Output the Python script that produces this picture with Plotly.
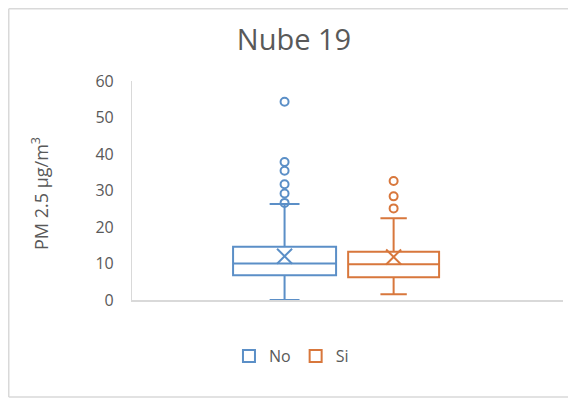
import plotly.graph_objects as go

# ---- data ----
series = ["No", "Si"]
colors = ["#5b8fc7", "#d8773c"]
q1 = [6.8, 6.2]
median = [10.0, 9.8]
q3 = [14.6, 13.2]
lower = [0.0, 1.6]
upper = [26.3, 22.4]
means = [12.0, 11.8]
outliers = [
    [54.3, 37.8, 35.4, 31.7, 29.2, 26.6],
    [32.6, 28.4, 25.1],
]
y_ticks = [0, 10, 20, 30, 40, 50, 60]

# layout positions (x in [0,1] plot coordinates)
positions = [0.354, 0.607]
widths = [0.239, 0.211]

FONT = "Open Sans"
GRAY = "#595959"

W, H = 576, 398          # page body has an 8px default margin
L, T = 124, 73
PW, PH = 431, 219
R, B = W - L - PW, H - T - PH

fig = go.Figure()
for i, name in enumerate(series):
    fig.add_trace(go.Box(
        name=name,
        x=[positions[i]],
        q1=[q1[i]], median=[median[i]], q3=[q3[i]],
        lowerfence=[lower[i]], upperfence=[upper[i]],
        width=widths[i],
        whiskerwidth=0.29,
        fillcolor="rgba(255,255,255,0)",
        line=dict(color=colors[i], width=2),
        boxpoints=False,
        showlegend=True,
    ))
    fig.add_trace(go.Scatter(
        x=[positions[i]] * len(outliers[i]), y=outliers[i],
        mode="markers",
        marker=dict(symbol="circle-open", size=8, color=colors[i],
                    line=dict(width=2, color=colors[i])),
        showlegend=False, hoverinfo="y",
    ))
    fig.add_trace(go.Scatter(
        x=[positions[i]], y=[means[i]],
        mode="markers",
        marker=dict(symbol="x-thin-open", size=15, color=colors[i],
                    line=dict(width=2, color=colors[i])),
        showlegend=False, hoverinfo="y",
    ))

bx0, bx1 = (0.75 - L) / PW, 1.2
by0, by1 = (292 - 389) / PH, (292 - 0.75) / PH
border = dict(color="#d9d9d9", width=1.5)

fig.update_layout(
    width=W, height=H,
    margin=dict(l=L, r=R, t=T, b=B),
    paper_bgcolor="white", plot_bgcolor="white",
    font=dict(family=FONT, color=GRAY, size=15),
    title=dict(text="Nube 19", x=286 / W, xref="container", y=1 - 32 / H,
               yref="container", xanchor="center", yanchor="middle",
               font=dict(family=FONT, size=29, color="#595959")),
    xaxis=dict(range=[0, 1], showticklabels=False, ticks="", showgrid=False,
               zeroline=False, showline=True, linecolor="#d9d9d9", linewidth=1.5),
    yaxis=dict(range=[0, 60], tickvals=y_ticks, ticks="", showgrid=False,
               zeroline=False, showline=True, linecolor="#d9d9d9", linewidth=1.2,
               ticklabelstandoff=14, tickfont=dict(size=16, color=GRAY)),
    legend=dict(orientation="h", x=0.37, xanchor="center", y=(292 - 348) / PH,
                yanchor="middle", font=dict(size=16, color=GRAY),
                itemwidth=30, traceorder="normal"),
    annotations=[dict(text="PM 2.5 µg/m<sup>3</sup>", textangle=-90,
                      xref="paper", yref="paper", x=(32 - L) / PW, y=(292 - 186) / PH,
                      xanchor="center", yanchor="middle", showarrow=False,
                      font=dict(size=18, color=GRAY))],
    shapes=[
        dict(type="line", xref="paper", yref="paper", x0=bx0, x1=bx0, y0=by0, y1=by1,
             line=border, layer="below"),
        dict(type="line", xref="paper", yref="paper", x0=bx0, x1=bx1, y0=by1, y1=by1,
             line=border, layer="below"),
        dict(type="line", xref="paper", yref="paper", x0=bx0, x1=bx1, y0=by0, y1=by0,
             line=border, layer="below"),
    ],
)

fig.write_html("out.html")
